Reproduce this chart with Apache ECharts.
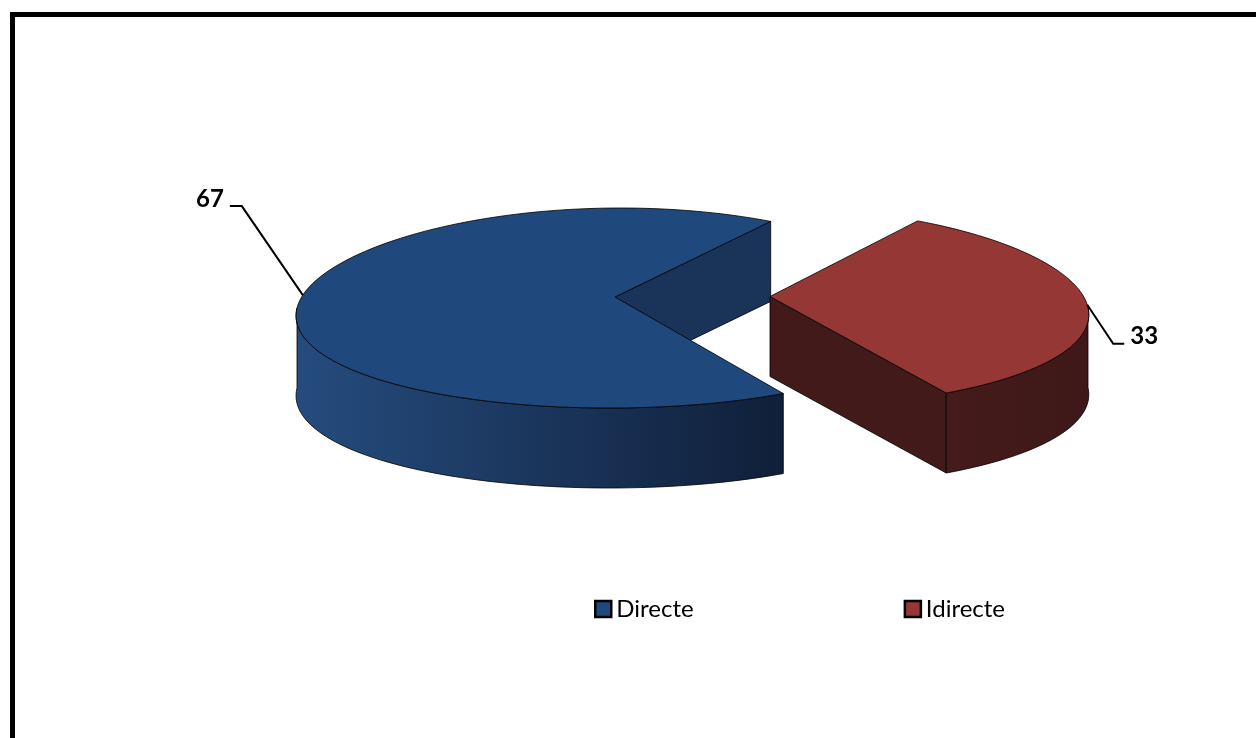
<!DOCTYPE html>
<html>
<head>
<meta charset="utf-8">
<script src="https://cdn.jsdelivr.net/npm/echarts@6/dist/echarts.min.js"></script>
<style>
  html, body { margin: 0; padding: 0; background: #fff; }
  #chart { width: 1256px; height: 738px; }
</style>
</head>
<body>
<div id="chart"></div>
<script>
// ---- data ----
const categories = ['Directe', 'Idirecte'];
const values = [67, 33];

// ---- styles ----
const topColors = ['#1F497D', '#953735'];
const cutColors = ['#1A3358', '#421A1A'];
const sideGrad = [['#254C7E', '#101F39'], ['#451B1B', '#3E1818']];
const legendColors = ['#1F497D', '#953735'];

// ---- 3D pie geometry ----
const G = {
  cx: 615, cy: 308, R: 318, RY: 100, depth: 80,
  vx: 710, pk: 0.06, vertexLift: -11,
  startAngle: 60, explode: [0, 155]
};
const total = values.reduce((a, b) => a + b, 0);
const D2R = Math.PI / 180;

function proj(ox, oy, deg, r) {
  const t = deg * D2R;
  const u = Math.cos(t) * r, v = Math.sin(t) * r;
  const s = 1 - G.pk * v;
  return [G.vx + (ox + G.R * u - G.vx) * s, oy - G.RY * v];
}
function arc(ox, oy, a0, a1, dy) {
  const pts = [];
  const n = Math.max(2, Math.ceil(Math.abs(a1 - a0) / 2));
  for (let i = 0; i <= n; i++) {
    const p = proj(ox, oy, a0 + (a1 - a0) * i / n, 1);
    pts.push([p[0], p[1] + (dy || 0)]);
  }
  return pts;
}
function frontRanges(a0, a1) {
  const out = [];
  for (const [f0, f1] of [[180, 360], [540, 720], [-180, 0]]) {
    const s = Math.max(a0, f0), e = Math.min(a1, f1);
    if (e > s) out.push([s, e]);
  }
  return out;
}

function sliceAngles(i) {
  let acc = 0;
  for (let k = 0; k < i; k++) acc += values[k];
  const a0 = G.startAngle + acc / total * 360;
  const a1 = a0 + values[i] / total * 360;
  return [a0, a1];
}

function makeRender(i) {
  return function (params, api) {
    const val = api.value(0);
    const [a0, a1] = sliceAngles(i);
    const mid = (a0 + a1) / 2;
    const ex = G.explode[i] || 0;
    const ox = G.cx + ex * Math.cos(mid * D2R);
    const oy = G.cy - ex * Math.sin(mid * D2R) * (G.RY / G.R);
    const vtx = [ox, oy + G.vertexLift];
    const vtxB = [vtx[0], vtx[1] + G.depth];
    const stroke = { stroke: '#000', lineWidth: 0.8, lineJoin: 'round' };
    const children = [];

    // cut faces (only those facing the viewer)
    const faces = [];
    if (Math.cos(a0 * D2R) > 0) faces.push(a0);
    if (Math.cos(a1 * D2R) < 0) faces.push(a1);
    faces.forEach(a => {
      const p = proj(ox, oy, a, 1);
      children.push({
        type: 'polygon',
        shape: { points: [vtx, p, [p[0], p[1] + G.depth], vtxB] },
        style: Object.assign({ fill: cutColors[i] }, stroke)
      });
    });

    // rim sides (front half)
    frontRanges(a0, a1).forEach(([s, e]) => {
      const topArc = arc(ox, oy, s, e, 0);
      const botArc = arc(ox, oy, e, s, G.depth);
      children.push({
        type: 'polygon',
        shape: { points: topArc.concat(botArc) },
        style: Object.assign({
          fill: {
            type: 'linear', x: 0, y: 0, x2: 1, y2: 0,
            colorStops: [
              { offset: 0, color: sideGrad[i][0] },
              { offset: 1, color: sideGrad[i][1] }
            ]
          }
        }, stroke)
      });
    });

    // top face
    children.push({
      type: 'polygon',
      shape: { points: [vtx].concat(arc(ox, oy, a0, a1, 0)) },
      style: Object.assign({ fill: topColors[i] }, stroke)
    });

    // label with leader line
    const left = Math.cos(mid * D2R) < 0;
    const anc = proj(ox, oy, mid + (left ? -8 : 1), 1);
    let elbow, end, tx, align;
    if (left) {
      elbow = [anc[0] - 61, anc[1] - 89];
      end = [elbow[0] - 12, elbow[1]];
      tx = end[0] - 6; align = 'right';
    } else {
      elbow = [anc[0] + 26, anc[1] + 39];
      end = [elbow[0] + 11, elbow[1]];
      tx = end[0] + 6; align = 'left';
    }
    children.push({
      type: 'polyline',
      shape: { points: [anc, elbow, end] },
      style: { stroke: '#000', lineWidth: 2, fill: null }
    });
    children.push({
      type: 'text',
      style: {
        text: String(val), x: tx, y: end[1] - 7,
        align: align, verticalAlign: 'middle',
        font: 'bold 24px Lato', fill: '#000'
      }
    });

    return { type: 'group', children: children };
  };
}

const series = categories.map((name, i) => ({
  type: 'custom',
  name: name,
  coordinateSystem: 'none',
  itemStyle: { color: legendColors[i] },
  data: [[values[i]]],
  renderItem: makeRender(i),
  z: 2 + i
}));

const chart = echarts.init(document.getElementById('chart'), null, { renderer: 'canvas' });
chart.setOption({
  animation: false,
  backgroundColor: '#fff',
  graphic: [{
    type: 'rect',
    shape: { x: 12.5, y: 14.5, width: 1270, height: 760 },
    style: { fill: null, stroke: '#000', lineWidth: 5 },
    silent: true
  }],
  legend: {
    left: 594, top: 597, padding: 0,
    itemWidth: 16, itemHeight: 16, itemGap: 210,
    icon: 'rect',
    data: categories.map((n, i) => ({
      name: n,
      itemStyle: { color: legendColors[i], borderColor: '#000', borderWidth: 2.5 }
    })),
    textStyle: { fontFamily: 'Lato', fontSize: 24, color: '#000', padding: [0, 0, 0, 0] }
  },
  series: series
});
</script>
</body>
</html>
